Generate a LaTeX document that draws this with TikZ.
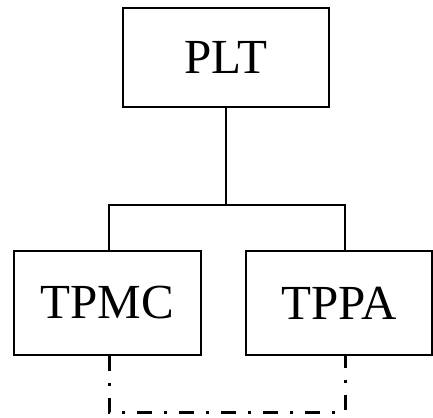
\documentclass[tikz,border=0pt]{standalone}
\usepackage{fontspec}
\setmainfont{Liberation Serif}
\begin{document}
\begin{tikzpicture}[x=1pt,y=-1pt,
  box/.style={draw,line width=2.5pt,rectangle,inner sep=0pt,font=\fontsize{49}{56}\selectfont},
  conn/.style={line width=2.5pt},
  dashdot/.style={line width=3pt,dash pattern=on 15pt off 12pt on 3pt off 12pt}]
\useasboundingbox (0,0) rectangle (433,417);
\node[box,minimum width=206pt,minimum height=99pt] (plt) at (226,57.5) {PLT};
\node[box,minimum width=187pt,minimum height=104pt] (tpmc) at (107.5,303) {TPMC};
\node[box,minimum width=186pt,minimum height=104pt] (tppa) at (339,303) {TPPA};
\coordinate (bl) at (109,205);
\coordinate (br) at (345,205);
\coordinate (dl) at (109,412);
\coordinate (dr) at (345,412);
\draw[conn] (plt.south) -- (plt.south |- bl);
\draw[conn] (bl |- tpmc.north) -- (bl) -- (br) -- (br |- tppa.north);
\draw[dashdot] (bl |- tpmc.south) -- (dl) -- (dr) -- (br |- tppa.south);
\end{tikzpicture}
\end{document}
